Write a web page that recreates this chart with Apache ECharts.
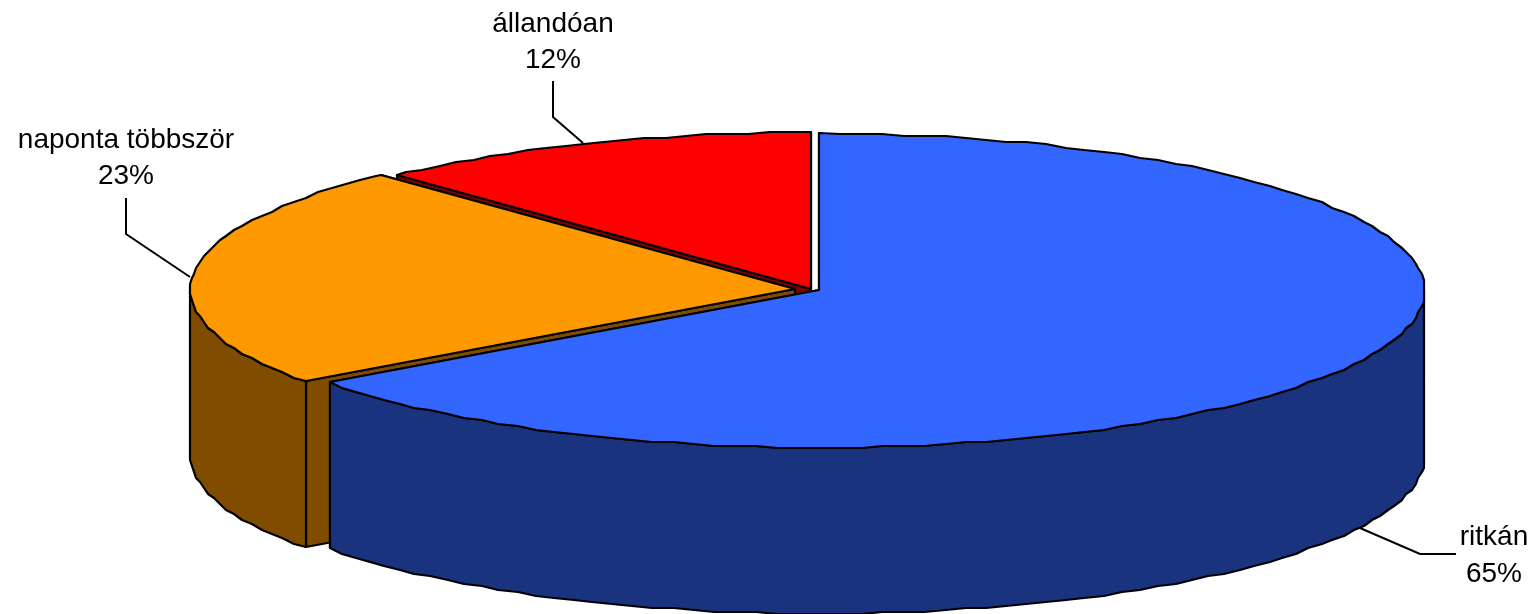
<!DOCTYPE html>
<html>
<head>
<meta charset="utf-8">
<style>html,body{margin:0;padding:0;background:#fff}#c{width:1533px;height:614px}</style>
<script src="https://cdn.jsdelivr.net/npm/echarts@6/dist/echarts.min.js"></script>
</head>
<body>
<div id="c"></div>
<script>
// Data, in paint order (back slices first)
const categories = ['állandóan', 'naponta többször', 'ritkán'];
const values = [12, 23, 65];

// Styling and layout
const topColors = ['#FF0000', '#FF9900', '#3366FF'];
const sideColors = ['#800000', '#804C00', '#1A337F'];
const layout = {
  rx: 605, ry: 157, depth: 166, step: 2, grid: 2,
  centers: [[811, 289], [795, 289], [819, 290]],
  labels: [[553, 24, 60], [126, 140, 176], [1494, 537, 574]],
  leaders: [
    [[553, 81], [553, 117], [583, 143]],
    [[126, 198], [126, 234], [190, 277]],
    [[1360, 528], [1420, 554], [1456, 554]]
  ]
};

const total = values.reduce((a, b) => a + b, 0);
const rad = d => d * Math.PI / 180;
const snap = n => Math.round(n / layout.grid) * layout.grid;

function rimPoint(c, deg, dy) {
  return [
    Math.round(c[0] + layout.rx * Math.sin(rad(deg))),
    Math.round(c[1] - layout.ry * Math.cos(rad(deg)) + dy)
  ];
}
// The rim is stepped like the low-resolution outline of the original
function arc(c, a0, a1, dy) {
  const pts = [rimPoint(c, a0, dy)];
  const first = Math.ceil(a0 / layout.step) * layout.step;
  for (let a = first; a < a1; a += layout.step) {
    if (a > a0) {
      const p = rimPoint(c, a, 0);
      pts.push([snap(p[0]), snap(p[1]) + dy]);
    }
  }
  pts.push(rimPoint(c, a1, dy));
  return pts;
}
function poly(points, fill, z) {
  return {
    type: 'polygon',
    shape: { points },
    style: { fill, stroke: '#000', lineWidth: 2.2, lineJoin: 'round' },
    z2: z
  };
}

function renderItem(params, api) {
  const i = params.dataIndex;
  const v = api.value(0);
  let before = 0;
  for (let k = 0; k < i; k++) before += values[k];
  const a1 = 360 - before / total * 360;
  const a0 = a1 - v / total * 360;
  const c = layout.centers[i];
  const d = layout.depth;
  const children = [];

  // cut faces: the one nearer the viewer goes last
  [a1, a0].forEach(a => {
    const r = rimPoint(c, a, 0);
    const rb = rimPoint(c, a, d);
    children.push(poly([[c[0], c[1]], r, rb, [c[0], c[1] + d]], sideColors[i], 1));
  });
  // outer wall: only the front half of the rim is visible
  const w0 = Math.max(a0, 90), w1 = Math.min(a1, 270);
  if (w1 > w0) {
    children.push(poly(arc(c, w0, w1, 0).concat(arc(c, w0, w1, d).reverse()), sideColors[i], 2));
  }
  // top face
  children.push(poly([[c[0], c[1]]].concat(arc(c, a0, a1, 0)), topColors[i], 3));

  // leader line and label
  children.push({
    type: 'polyline',
    shape: { points: layout.leaders[i] },
    style: { fill: null, stroke: '#000', lineWidth: 2 },
    z2: 4
  });
  const l = layout.labels[i];
  [[categories[i], l[1]], [v + '%', l[2]]].forEach(t => {
    children.push({
      type: 'text',
      x: l[0], y: t[1],
      style: {
        text: t[0], fill: '#000',
        font: '28px "Liberation Sans", Arial, sans-serif',
        align: 'center', verticalAlign: 'middle'
      },
      z2: 5
    });
  });
  return { type: 'group', children };
}

const chart = echarts.init(document.getElementById('c'), null, { renderer: 'canvas' });
chart.setOption({
  animation: false,
  backgroundColor: '#fff',
  series: [{
    type: 'custom',
    coordinateSystem: 'none',
    silent: true,
    renderItem,
    encode: { value: 0 },
    data: values.map(v => [v])
  }]
});
</script>
</body>
</html>
